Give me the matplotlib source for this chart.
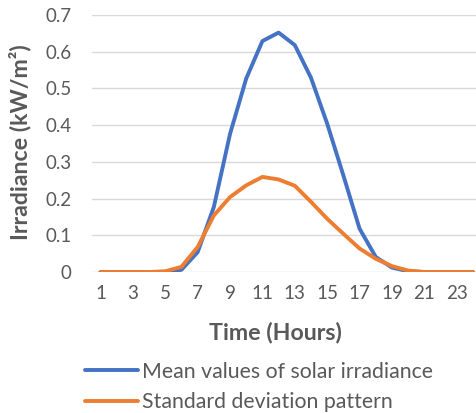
import matplotlib
matplotlib.use("Agg")
import matplotlib.pyplot as plt

hours = list(range(1, 25))
mean_irradiance = [0, 0, 0, 0, 0, 0.006, 0.054, 0.177, 0.376, 0.527, 0.629, 0.652,
                   0.618, 0.529, 0.404, 0.263, 0.118, 0.041, 0.012, 0.002, 0, 0, 0, 0]
std_pattern = [0, 0, 0, 0, 0.002, 0.014, 0.068, 0.154, 0.204, 0.236, 0.259, 0.252,
               0.235, 0.191, 0.145, 0.104, 0.064, 0.036, 0.016, 0.004, 0, 0, 0, 0]
series_labels = ["Mean values of solar irradiance", "Standard deviation pattern"]
x_ticks = list(range(1, 24, 2))
y_ticks = [0, 0.1, 0.2, 0.3, 0.4, 0.5, 0.6, 0.7]
y_tick_labels = ["0", "0.1", "0.2", "0.3", "0.4", "0.5", "0.6", "0.7"]

TEXT = "#595959"
plt.rcParams["font.family"] = ["Lato", "DejaVu Sans"]

fig = plt.figure(figsize=(4.77, 4.13), dpi=100)
ax = fig.add_axes([0.1937, 0.3414, 0.8147, 0.6223])

l1, = ax.plot(hours, mean_irradiance, color="#4472C4", lw=2.8,
              solid_capstyle="round", solid_joinstyle="round", zorder=3)
l2, = ax.plot(hours, std_pattern, color="#ED7D31", lw=2.8,
              solid_capstyle="round", solid_joinstyle="round", zorder=4)

ax.set_xlim(0.5, 24.5)
ax.set_ylim(0, 0.7)
ax.set_xticks(x_ticks)
ax.set_xticklabels([str(h) for h in x_ticks])
ax.set_yticks(y_ticks)
ax.set_yticklabels(y_tick_labels)
ax.yaxis.grid(True, color="#d9d9d9", lw=1.0)
ax.set_axisbelow(True)
for s in ax.spines.values():
    s.set_visible(False)
ax.tick_params(axis="both", length=0, labelsize=13.5, labelcolor=TEXT)
ax.tick_params(axis="y", pad=15)
ax.tick_params(axis="x", pad=9)
ax.patch.set_alpha(0)

fig.text(0.043, 0.656, "Irradiance (kW/m²)", rotation=90, ha="center", va="center",
         fontsize=16.7, fontweight="bold", color=TEXT)
fig.text(0.5765, 0.194, "Time (Hours)", ha="center", va="center",
         fontsize=16.7, fontweight="bold", color=TEXT)

fig.legend([l1, l2], series_labels, loc="center left", bbox_to_anchor=(0.178, 0.063),
           frameon=False, fontsize=15.3, labelcolor=TEXT, handlelength=2.5,
           handletextpad=0.2, labelspacing=0.5, borderpad=0, borderaxespad=0)

fig.savefig("out.png", dpi=100)
